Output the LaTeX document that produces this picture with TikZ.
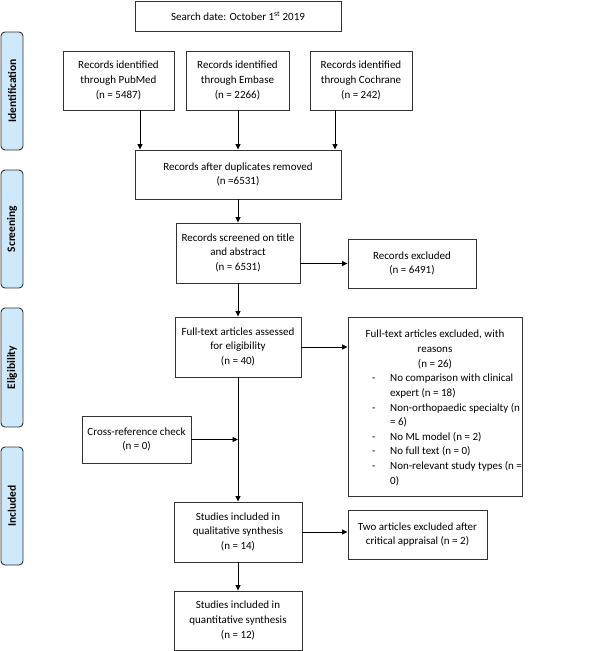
\documentclass[tikz,border=0pt]{standalone}
\usepackage{fontspec}
\setmainfont{Carlito}
\usetikzlibrary{arrows.meta}
\definecolor{sidefill}{HTML}{CDE9FB}
\definecolor{edgecol}{HTML}{333333}
\newcommand{\ctr}[1]{\begin{tabular}{@{}c@{}}#1\end{tabular}}
\begin{document}
\begin{tikzpicture}[x=1pt,y=-1pt,
  box/.style={draw=edgecol, line width=0.9pt, fill=white, inner sep=0pt,
    font=\fontsize{11}{14.8}\selectfont},
  plain/.style={inner sep=0pt, font=\fontsize{11}{14.6}\selectfont},
  side/.style={draw=edgecol, line width=0.9pt, fill=sidefill, rounded corners=4pt,
    minimum height=22pt, rotate=90, inner sep=0pt, font=\bfseries\fontsize{11.5}{12}\selectfont},
  arr/.style={draw=black, line width=0.9pt, -{Triangle[length=5.5pt,width=5pt]}}
]
\useasboundingbox (0,0) rectangle (610,651);

% side labels
\node[side, minimum width=118pt] (lid) at (12,91) {Identification};
\node[side, minimum width=118pt] (lsc) at (12,229) {Screening};
\node[side, minimum width=119pt] (lel) at (12,367.5) {Eligibility};
\node[side, minimum width=118pt] (lin) at (12,506) {Included};

% boxes
\node[box, minimum width=206pt, minimum height=30pt] (search) at (238,16)
  {Search date: October 1\textsuperscript{st} 2019};
\node[box, minimum width=111pt, minimum height=59pt] (pubmed) at (118.5,80.5)
  {\ctr{Records identified\\through PubMed\\(n = 5487)}};
\node[box, minimum width=103pt, minimum height=59pt] (embase) at (237.5,80.5)
  {\ctr{Records identified\\through Embase\\(n = 2266)}};
\node[box, minimum width=102pt, minimum height=59pt] (cochrane) at (361,80.5)
  {\ctr{Records identified\\through Cochrane\\(n = 242)}};
\node[box, minimum width=206pt, minimum height=49pt] (dup) at (238,174.5)
  {\ctr{Records after duplicates removed\\(n =6531)}};
\node[box, minimum width=124pt, minimum height=60pt] (screened) at (238,253)
  {\ctr{Records screened on title\\and abstract\\(n = 6531)}};
\node[box, minimum width=128pt, minimum height=49pt] (recexcl) at (412,263.5)
  {\ctr{Records excluded\\(n = 6491)}};
\node[box, minimum width=126pt, minimum height=60pt] (fulltext) at (238,347)
  {\ctr{Full-text articles assessed\\for eligibility\\(n = 40)}};
\node[box, minimum width=174pt, minimum height=179pt] (ftexcl) at (435,406.5) {};
\node[plain, anchor=north] (ftexh) at (435,327.5)
  {\ctr{Full-text articles excluded, with\\reasons\\(n = 26)}};
\node[plain, anchor=north west] (ftexl) at (371,371.5)
  {\begin{tabular}{@{}p{19pt}@{}l@{}}
   \hspace{1pt}- & No comparison with clinical\\
    & expert (n = 18)\\
   \hspace{1pt}- & Non-orthopaedic specialty (n\\
    & = 6)\\
   \hspace{1pt}- & No ML model (n = 2)\\
   \hspace{1pt}- & No full text (n = 0)\\
   \hspace{1pt}- & Non-relevant study types (n =\\
    & 0)
   \end{tabular}};
\node[box, minimum width=109pt, minimum height=47pt] (crossref) at (136.5,439.5)
  {\ctr{Cross-reference check\\(n = 0)}};
\node[box, minimum width=128pt, minimum height=60pt] (qual) at (238,532)
  {\ctr{Studies included in\\qualitative synthesis\\(n = 14)}};
\node[box, minimum width=139pt, minimum height=49pt] (twoart) at (417.5,534.5)
  {\ctr{Two articles excluded after\\critical appraisal (n = 2)}};
\node[box, minimum width=128pt, minimum height=59pt] (quant) at (238,620.5)
  {\ctr{Studies included in\\quantitative synthesis\\(n = 12)}};

% connectors
\coordinate (pa) at ([xshift=21.5pt]pubmed.south);
\coordinate (ca) at ([xshift=-26pt]cochrane.south);
\draw[arr] (pa) -- (pa |- dup.north);
\draw[arr] (embase.south -| dup.north) -- (dup.north);
\draw[arr] (ca) -- (ca |- dup.north);
\draw[arr] (dup.south) -- (screened.north);
\draw[arr] (screened.east |- recexcl.west) -- (recexcl.west);
\draw[arr] (screened.south) -- (fulltext.north);
\draw[arr] (fulltext.east) -- (fulltext.east -| ftexcl.west);
\draw[arr] (fulltext.south) -- (qual.north);
\coordinate (join) at (crossref.east -| fulltext.south);
\draw[arr] (crossref.east) -- (join);
\draw[arr] (qual.east) -- (qual.east -| twoart.west);
\draw[arr] (qual.south) -- (quant.north);
\end{tikzpicture}
\end{document}
